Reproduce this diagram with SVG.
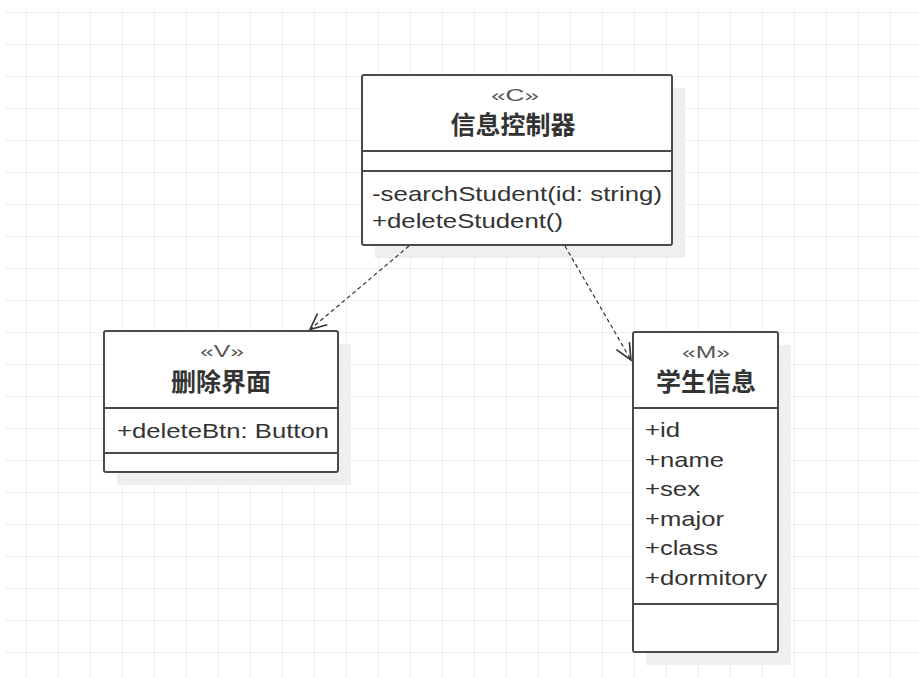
<svg xmlns="http://www.w3.org/2000/svg" width="919" height="678" viewBox="0 0 919 678">
<style>
.box{fill:#ffffff;stroke:#4a4a4a;stroke-width:2}
.shadow{fill:#efefef}
.div{stroke:#4a4a4a;stroke-width:2}
.st{font-family:"Liberation Sans",Arial,sans-serif;font-size:17px;fill:#555;text-anchor:middle}
.title{font-family:"Noto Sans CJK SC","Noto Sans CJK TC",sans-serif;font-weight:bold;font-size:25px;fill:#333;text-anchor:middle}
.m{font-family:"Liberation Sans",Arial,sans-serif;font-size:21px;fill:#333}
.dep{fill:none;stroke:#333;stroke-width:1.2;stroke-dasharray:4 3}
</style>
<defs>
<pattern id="grid" patternUnits="userSpaceOnUse" x="26" y="12" width="32" height="32">
<path d="M0,0 H32 M0,0 V32" fill="none" stroke="#eeeeee" stroke-width="2"/>
</pattern>
<marker id="open" markerUnits="userSpaceOnUse" markerWidth="20" markerHeight="20" viewBox="-14 -8 16 16" refX="0" refY="0" orient="auto">
<path d="M-13,-6 L0,0 L-13,6" fill="none" stroke="#333" stroke-width="1.3"/>
</marker>
</defs>
<rect x="0" y="0" width="919" height="678" fill="#ffffff"/>
<rect x="5" y="10" width="914" height="668" fill="url(#grid)"/>

<g id="controller">
<rect class="shadow" x="375" y="88" width="310" height="170"/>
<rect class="box" x="362" y="75" width="310" height="170" rx="2"/>
<line class="div" x1="362" y1="151" x2="672" y2="151"/>
<line class="div" x1="362" y1="171" x2="672" y2="171"/>
<text class="st" x="515" y="101" textLength="48" lengthAdjust="spacingAndGlyphs">«C»</text>
<text class="title" x="513" y="134">信息控制器</text>
<text class="m" x="372" y="201" textLength="290" lengthAdjust="spacingAndGlyphs">-searchStudent(id: string)</text>
<text class="m" x="372" y="228" textLength="191" lengthAdjust="spacingAndGlyphs">+deleteStudent()</text>
</g>

<g id="view">
<rect class="shadow" x="117" y="344" width="234" height="141"/>
<rect class="box" x="104" y="331" width="234" height="141" rx="2"/>
<line class="div" x1="104" y1="408" x2="338" y2="408"/>
<line class="div" x1="104" y1="453" x2="338" y2="453"/>
<text class="st" x="222" y="357" textLength="44" lengthAdjust="spacingAndGlyphs">«V»</text>
<text class="title" x="221" y="391">删除界面</text>
<text class="m" x="117" y="438" textLength="212" lengthAdjust="spacingAndGlyphs">+deleteBtn: Button</text>
</g>

<g id="model">
<rect class="shadow" x="646" y="345" width="145" height="320"/>
<rect class="box" x="633" y="332" width="145" height="320" rx="2"/>
<line class="div" x1="633" y1="408" x2="778" y2="408"/>
<line class="div" x1="633" y1="604" x2="778" y2="604"/>
<text class="st" x="706" y="358" textLength="48" lengthAdjust="spacingAndGlyphs">«M»</text>
<text class="title" x="706" y="391">学生信息</text>
<text class="m" x="645" y="437" textLength="35" lengthAdjust="spacingAndGlyphs">+id</text>
<text class="m" x="645" y="467" textLength="79" lengthAdjust="spacingAndGlyphs">+name</text>
<text class="m" x="645" y="496" textLength="55" lengthAdjust="spacingAndGlyphs">+sex</text>
<text class="m" x="645" y="526" textLength="79" lengthAdjust="spacingAndGlyphs">+major</text>
<text class="m" x="645" y="555" textLength="73" lengthAdjust="spacingAndGlyphs">+class</text>
<text class="m" x="645" y="585" textLength="122" lengthAdjust="spacingAndGlyphs">+dormitory</text>
</g>

<g id="connectors">
<path class="dep" d="M409,246 L310,329.5" marker-end="url(#open)"/>
<path class="dep" d="M565,246 L631,360" marker-end="url(#open)"/>
</g>
</svg>
